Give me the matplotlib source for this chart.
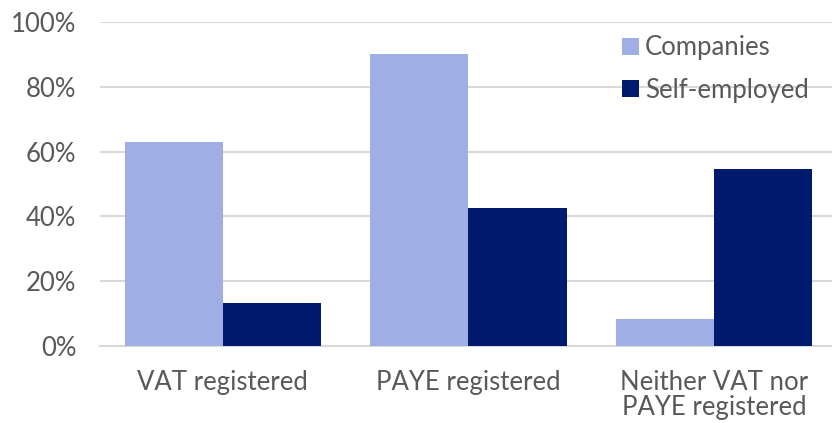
import matplotlib.pyplot as plt
import numpy as np

categories = ["VAT registered", "PAYE registered", "Neither VAT nor\nPAYE registered"]
companies = [63, 90, 8.3]
self_employed = [13.3, 42.5, 54.6]
series_names = ["Companies", "Self-employed"]
yticks = [0, 20, 40, 60, 80, 100]

light = "#9FAEE5"
dark = "#001B6E"
grey = "#595959"

plt.rcParams['font.family'] = ['Lato', 'DejaVu Sans']

fig = plt.figure(figsize=(8.32, 4.23), dpi=100)
ax = fig.add_axes([100 / 832, 1 - 346 / 423, 732 / 832, 324 / 423])

x = np.arange(len(categories))
w = 0.4
ax.bar(x - w / 2, companies, w, color=light, label=series_names[0], zorder=3)
ax.bar(x + w / 2, self_employed, w, color=dark, label=series_names[1], zorder=3)

ax.set_xlim(-0.5, 2.5 - 5 / 246)
ax.set_ylim(0, 100)
ax.set_yticks(yticks)
ax.set_yticklabels([f"{v}%" for v in yticks])
ax.set_xticks(x)
ax.set_xticklabels(categories, linespacing=1.0)

ax.grid(axis='y', color="#D9D9D9", linewidth=1.5, zorder=0)
for s in ["top", "right", "left"]:
    ax.spines[s].set_visible(False)
ax.spines["bottom"].set_color("#D9D9D9")
ax.spines["bottom"].set_linewidth(1.5)
ax.tick_params(axis='both', length=0, labelsize=18.5, colors=grey)
ax.tick_params(axis='y', pad=17)
ax.tick_params(axis='x', pad=17)

ax.legend(loc="upper right", bbox_to_anchor=(1.0, 1.03), frameon=False, fontsize=18.5,
          labelcolor=grey, handlelength=0.65, handleheight=0.65, handletextpad=0.25,
          labelspacing=0.68)

fig.savefig("out.png", dpi=100)
